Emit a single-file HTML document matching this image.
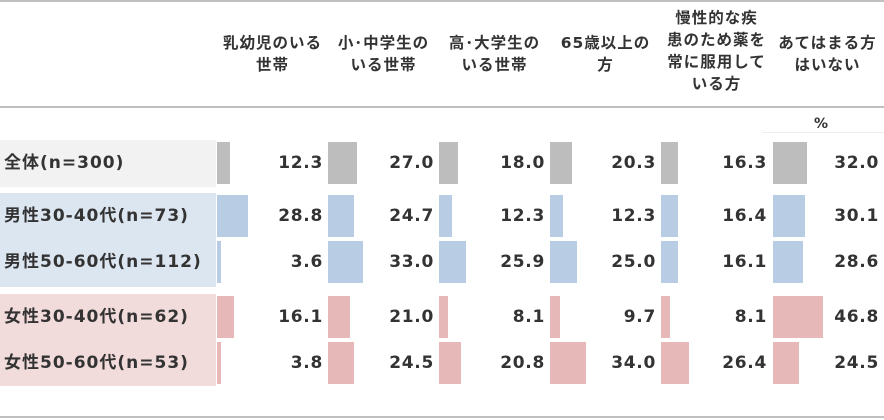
<!DOCTYPE html>
<html><head><meta charset="utf-8"><style>
body{margin:0;width:884px;height:420px;background:#fff;position:relative;overflow:hidden;font-family:"DejaVu Sans","Noto Sans CJK JP",sans-serif;color:#333;font-weight:bold}
.a{position:absolute}
.h{position:absolute;width:111px;text-align:center;font-size:15.5px;letter-spacing:1px;line-height:22px;color:#333;white-space:nowrap}
.lab{position:absolute;left:0;width:216px;font-size:17px;letter-spacing:1px;padding-left:4px;box-sizing:border-box;white-space:nowrap}
.v{position:absolute;width:106px;text-align:right;font-size:17px;letter-spacing:0.7px;line-height:42px}
.b{position:absolute;height:42px}
</style></head><body>
<div class="a" style="left:0;top:0;width:884px;height:2px;background:#c0c0c0"></div>
<div class="a" style="left:0;top:106px;width:884px;height:2px;background:#c0c0c0"></div>
<div class="a" style="left:0;top:416px;width:884px;height:2px;background:#c0c0c0"></div>
<div class="h" style="left:217px;top:32px">乳幼児のいる<br>世帯</div>
<div class="h" style="left:328px;top:32px">小･中学生の<br>いる世帯</div>
<div class="h" style="left:439px;top:32px">高･大学生の<br>いる世帯</div>
<div class="h" style="left:550px;top:32px">65歳以上の<br>方</div>
<div class="h" style="left:661px;top:7px">慢性的な疾<br>患のため薬を<br>常に服用して<br>いる方</div>
<div class="h" style="left:772px;top:32px">あてはまる方<br>はいない</div>
<div class="a" style="left:814px;top:116px;font-size:14px">%</div>
<div class="a" style="left:762px;top:132px;width:122px;height:1px;background:#eee"></div>
<div class="a" style="left:0;top:140px;width:216px;height:47px;background:#f2f2f2"></div>
<div class="a" style="left:0;top:193px;width:216px;height:94px;background:#dce6f1"></div>
<div class="a" style="left:0;top:294px;width:216px;height:92px;background:#f2dcdb"></div>
<div id="g"></div>
<script>
var rows=[["全体(n=300)",142,"#bdbdbd",[12.3,27.0,18.0,20.3,16.3,32.0]],
["男性30-40代(n=73)",195,"#b8cce4",[28.8,24.7,12.3,12.3,16.4,30.1]],
["男性50-60代(n=112)",241,"#b8cce4",[3.6,33.0,25.9,25.0,16.1,28.6]],
["女性30-40代(n=62)",296,"#e6b8b7",[16.1,21.0,8.1,9.7,8.1,46.8]],
["女性50-60代(n=53)",342,"#e6b8b7",[3.8,24.5,20.8,34.0,26.4,24.5]]];
var cols=[217,328,439,550,661,773],h="";
rows.forEach(function(r){
h+='<div class="lab" style="top:'+r[1]+'px;line-height:42px">'+r[0]+'</div>';
r[3].forEach(function(v,i){
h+='<div class="b" style="left:'+cols[i]+'px;top:'+r[1]+'px;width:'+Math.max(2,Math.round(v*1.06))+'px;background:'+r[2]+'"></div>';
h+='<div class="v" style="left:'+cols[i]+'px;top:'+r[1]+'px">'+v.toFixed(1)+'</div>';});});
document.getElementById("g").innerHTML=h;
</script>
</body></html>
